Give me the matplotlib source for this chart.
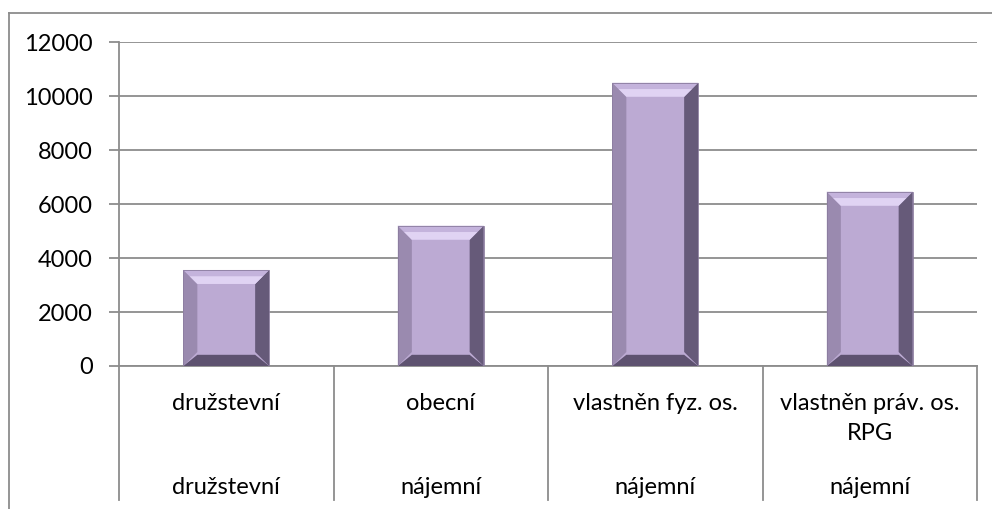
import matplotlib
matplotlib.use("Agg")
import matplotlib.pyplot as plt
from matplotlib.patches import Polygon
from matplotlib.lines import Line2D
import matplotlib.transforms as mtransforms
import numpy as np

# Data.
categories = ["družstevní", "obecní", "vlastněn fyz. os.", "vlastněn práv. os.\nRPG"]
groups = ["družstevní", "nájemní", "nájemní", "nájemní"]
values = [3560, 5200, 10500, 6460]
yticks = [0, 2000, 4000, 6000, 8000, 10000, 12000]

plt.rcParams.update({
    "font.family": ["Lato", "DejaVu Sans"],
    "font.size": 17,
})

grid_c = "#8c8c8c"
face_c = "#bcaad3"

fig = plt.figure(figsize=(9.92, 5.09), dpi=100)
ax = fig.add_axes([119 / 992, 1 - 366 / 509, (977 - 119) / 992, (366 - 42.3) / 509])

x = np.arange(len(values))
bars = ax.bar(x, values, width=0.4, color=face_c, zorder=3, linewidth=0)

ax.set_xlim(-0.5, len(values) - 0.5)
ax.set_ylim(0, 12000)
ax.set_yticks(yticks)
ax.set_xticks([])
ax.yaxis.grid(True, color=grid_c, linewidth=1.3, zorder=0)
ax.set_axisbelow(True)
ax.tick_params(axis="y", length=7, width=1.3, color=grid_c, pad=12, labelsize=17)

for s in ["top", "right"]:
    ax.spines[s].set_visible(False)
for s in ["left", "bottom"]:
    ax.spines[s].set_color(grid_c)
    ax.spines[s].set_linewidth(1.3)

# Bevel size in pixels, converted to data units.
fig.canvas.draw()
p0 = ax.transData.transform((0, 0))
p1 = ax.transData.transform((1, 1000))
dx = 14 / (p1[0] - p0[0])
dy = 14 / (p1[1] - p0[1]) * 1000

for b in bars:
    x0, w, h = b.get_x(), b.get_width(), b.get_height()
    x1 = x0 + w
    top = [(x0, h), (x1, h), (x1 - dx, h - dy), (x0 + dx, h - dy)]
    left = [(x0, 0), (x0, h), (x0 + dx, h - dy), (x0 + dx, dy)]
    right = [(x1, 0), (x1, h), (x1 - dx, h - dy), (x1 - dx, dy)]
    bottom = [(x0, 0), (x1, 0), (x1 - dx, dy * 0.8), (x0 + dx, dy * 0.8)]
    ax.add_patch(Polygon(left, closed=True, color="#9a8aaf", lw=0, zorder=4))
    ax.add_patch(Polygon(right, closed=True, color="#665a79", lw=0, zorder=4))
    ax.add_patch(Polygon(bottom, closed=True, color="#5e5270", lw=0, zorder=5))
    ax.add_patch(Polygon(top, closed=True, color="#c4b3dc", lw=0, zorder=5))
    # light band near the inner edge of the top bevel
    f = 0.45
    band = [(x0 + dx * f, h - dy * f), (x1 - dx * f, h - dy * f),
            (x1 - dx, h - dy), (x0 + dx, h - dy)]
    ax.add_patch(Polygon(band, closed=True, color="#e0d3f3", lw=0, zorder=6))
    # thin edge outline on the outer rectangle
    ax.add_patch(Polygon([(x0, 0), (x0, h), (x1, h), (x1, 0)], closed=True,
                         fill=False, edgecolor="#8a7b9e", lw=0.6, zorder=7))

# Category separators below the axis and the two levels of labels.
trans = mtransforms.blended_transform_factory(ax.transData, ax.transAxes)
ybot = -(500 - 366) / (366 - 42.3)
for xs in np.arange(len(values) + 1) - 0.5:
    ax.add_line(Line2D([xs, xs], [0, ybot], transform=trans, color=grid_c,
                       lw=1.3, clip_on=False))

y1 = -(393 - 366) / (366 - 42.3)
y2 = -(487 - 366) / (366 - 42.3)
for xi, cat, grp in zip(x, categories, groups):
    ax.text(xi, y1, cat, transform=trans, ha="center", va="top",
            fontsize=17, linespacing=1.5)
    ax.text(xi, y2, grp, transform=trans, ha="center", va="center", fontsize=17)

# Outer chart frame (left and top edges visible).
fig.add_artist(Line2D([9 / 992, 9 / 992], [0, 1 - 13 / 509], color=grid_c, lw=1.3))
fig.add_artist(Line2D([9 / 992, 1], [1 - 13 / 509, 1 - 13 / 509], color=grid_c, lw=1.3))

fig.savefig("out.png", dpi=100)
